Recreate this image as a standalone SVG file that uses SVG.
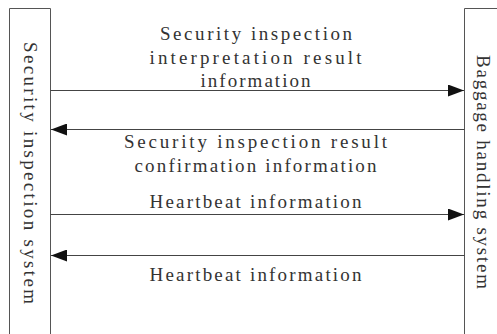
<svg xmlns="http://www.w3.org/2000/svg" width="497" height="334" viewBox="0 0 497 334">
<style>
.bg{fill:#ffffff}
.box{fill:none;stroke:#555555;stroke-width:1}
.conn{fill:none;stroke:#444444;stroke-width:1}
.t{font-family:"Liberation Serif","Times New Roman",serif;font-size:19px;fill:#333333}
</style>
<defs>
<marker id="ah" markerWidth="16" markerHeight="12" refX="16" refY="6" orient="auto" markerUnits="userSpaceOnUse">
<path d="M0,0 L16,6 L0,12 Z" fill="#111111"/>
</marker>
</defs>
<rect class="bg" x="0" y="0" width="497" height="334"/>
<g id="security-inspection-system">
<path class="box" d="M9.5,334 V8.5 H50.5 V334"/>
<text class="t" transform="translate(24,42) rotate(90)" x="0" y="0" textLength="262" lengthAdjust="spacing">Security inspection system</text>
</g>
<g id="baggage-handling-system">
<path class="box" d="M464.5,334 V8.5 H497"/>
<text class="t" transform="translate(477,55) rotate(90)" x="0" y="0" textLength="234" lengthAdjust="spacing">Baggage handling system</text>
</g>
<g id="connectors">
<line class="conn" x1="50.5" y1="90.5" x2="464" y2="90.5" marker-end="url(#ah)"/>
<line class="conn" x1="464.5" y1="129.5" x2="51" y2="129.5" marker-end="url(#ah)"/>
<line class="conn" x1="50.5" y1="214.5" x2="464" y2="214.5" marker-end="url(#ah)"/>
<line class="conn" x1="464.5" y1="255.5" x2="51" y2="255.5" marker-end="url(#ah)"/>
</g>
<g id="labels">
<text class="t" x="160" y="40" textLength="192" lengthAdjust="spacing">Security inspection</text>
<text class="t" x="149.5" y="63.5" textLength="212" lengthAdjust="spacing">interpretation result</text>
<text class="t" x="200.5" y="87" textLength="110" lengthAdjust="spacing">information</text>
<text class="t" x="124" y="148" textLength="263" lengthAdjust="spacing">Security inspection result</text>
<text class="t" x="134.5" y="172" textLength="242" lengthAdjust="spacing">confirmation information</text>
<text class="t" x="149.5" y="208" textLength="212" lengthAdjust="spacing">Heartbeat information</text>
<text class="t" x="149.5" y="281" textLength="212" lengthAdjust="spacing">Heartbeat information</text>
</g>
</svg>
